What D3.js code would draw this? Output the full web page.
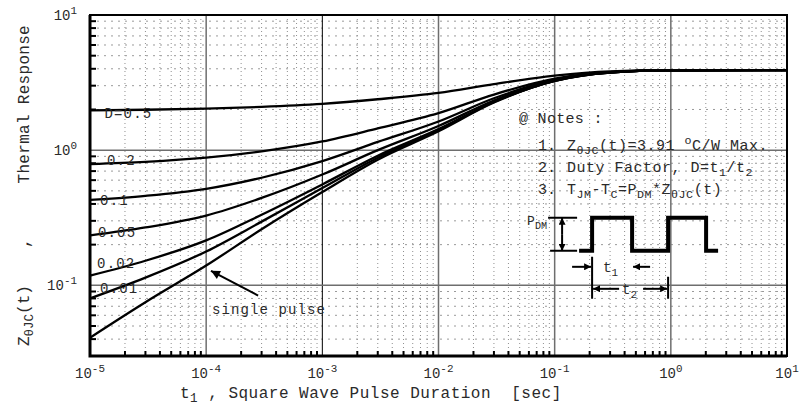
<!DOCTYPE html>
<html>
<head>
<meta charset="utf-8">
<script src="https://cdn.jsdelivr.net/npm/d3@7"></script>
<style>
  body { margin: 0; background: #fff; }
  svg { display: block; }
  text { font-family: "Liberation Mono", "Courier New", monospace; fill: #2a2a2a; white-space: pre; }
</style>
</head>
<body>
<div id="chart"></div>
<script>
// pulse durations (s) where the curves were read
var times = [1e-5, 3e-5, 1e-4, 3e-4, 1e-3, 3e-3, 1e-2, 3e-2, 1e-1, 3e-1, 1, 10];

// Z(t) readings, one list per duty factor
var zD05 = [1.97, 1.99, 2.03, 2.09, 2.20, 2.38, 2.65, 3.08, 3.56, 3.83, 3.90, 3.91];
var zD02 = [0.79, 0.82, 0.88, 0.98, 1.16, 1.45, 1.88, 2.58, 3.38, 3.78, 3.89, 3.91];
var zD01 = [0.428, 0.459, 0.517, 0.625, 0.83, 1.15, 1.63, 2.42, 3.32, 3.77, 3.89, 3.91];
var zD005 = [0.234, 0.268, 0.328, 0.443, 0.66, 1.00, 1.51, 2.33, 3.28, 3.76, 3.89, 3.91];
var zD002 = [0.118, 0.152, 0.215, 0.333, 0.558, 0.91, 1.43, 2.28, 3.26, 3.75, 3.89, 3.91];
var zD001 = [0.080, 0.114, 0.178, 0.296, 0.524, 0.88, 1.40, 2.27, 3.26, 3.75, 3.89, 3.91];
var zSingle = [0.041, 0.075, 0.14, 0.26, 0.49, 0.85, 1.38, 2.25, 3.25, 3.75, 3.89, 3.91];

var series = [zD05, zD02, zD01, zD005, zD002, zD001, zSingle];

// curve labels and where they sit (t, Z)
var labelText = ['D=0.5', '0.2', '0.1', '0.05', '0.02', '0.01'];
var labelT = [1.33e-5, 1.4e-5, 1.22e-5, 1.17e-5, 1.15e-5, 1.22e-5];
var labelZ = [1.73, 0.777, 0.393, 0.228, 0.134, 0.088];

var xTickExp = [-5, -4, -3, -2, -1, 0, 1];
var yTickExp = [1, 0, -1];

var width = 799, height = 405;
var margin = {left: 90, top: 15, right: 12, bottom: 49};

var svg = d3.select('#chart').append('svg')
    .attr('width', width)
    .attr('height', height);

var x = d3.scaleLog().domain([1e-5, 10]).range([margin.left, width - margin.right]);
var y = d3.scaleLog().domain([0.03, 10]).range([height - margin.bottom, margin.top]);

var x0 = x.range()[0], x1 = x.range()[1];
var y0 = y.range()[0], y1 = y.range()[1];

// minor grid values
var xMinor = [], yMinor = [];
xTickExp.slice(0, -1).forEach(function (e) {
    for (var k = 2; k <= 9; k++) xMinor.push(k * Math.pow(10, e));
});
[-2, -1, 0].forEach(function (e) {
    for (var k = 2; k <= 9; k++) {
        var v = k * Math.pow(10, e);
        if (v >= 0.03) yMinor.push(v);
    }
});

var grid = svg.append('g');

grid.selectAll('.xm').data(xMinor).enter().append('line')
    .attr('x1', d => x(d)).attr('x2', d => x(d))
    .attr('y1', y1).attr('y2', y0)
    .attr('stroke', '#8f8f8f').attr('stroke-width', 1)
    .attr('stroke-dasharray', '1,3');

grid.selectAll('.ym').data(yMinor).enter().append('line')
    .attr('x1', x0).attr('x2', x1)
    .attr('y1', d => y(d)).attr('y2', d => y(d))
    .attr('stroke', '#9a9a9a').attr('stroke-width', 1)
    .attr('stroke-dasharray', '2,5');

grid.selectAll('.xM').data(xTickExp.slice(1, -1)).enter().append('line')
    .attr('x1', d => x(Math.pow(10, d))).attr('x2', d => x(Math.pow(10, d)))
    .attr('y1', y1).attr('y2', y0)
    .attr('stroke', d => d === -3 ? '#000' : '#6e6e6e')
    .attr('stroke-width', d => d === -3 ? 1 : 1.5);

grid.selectAll('.yM').data([0, -1]).enter().append('line')
    .attr('x1', x0).attr('x2', x1)
    .attr('y1', d => y(Math.pow(10, d))).attr('y2', d => y(Math.pow(10, d)))
    .attr('stroke', '#6e6e6e').attr('stroke-width', 1.5);

// inner minor ticks
svg.append('g').selectAll('line').data(yMinor).enter().append('line')
    .attr('x1', x0).attr('x2', x0 + 6)
    .attr('y1', d => y(d)).attr('y2', d => y(d))
    .attr('stroke', '#000').attr('stroke-width', 2);

svg.append('g').selectAll('line').data(xMinor).enter().append('line')
    .attr('x1', d => x(d)).attr('x2', d => x(d))
    .attr('y1', y0).attr('y2', y0 - 5)
    .attr('stroke', '#000').attr('stroke-width', 2);

// frame
svg.append('rect')
    .attr('x', x0).attr('y', y1)
    .attr('width', x1 - x0).attr('height', y0 - y1)
    .attr('fill', 'none').attr('stroke', '#000').attr('stroke-width', 2);
svg.append('path')
    .attr('d', `M${x0},${y1}V${y0}H${x1}`)
    .attr('fill', 'none').attr('stroke', '#000').attr('stroke-width', 3);

// curves
var line = d3.line()
    .x((d, i) => x(times[i]))
    .y(d => y(d))
    .curve(d3.curveMonotoneX);

var curves = svg.append('g');
curves.selectAll('path').data(series).enter().append('path')
    .attr('d', d => line(d))
    .attr('fill', 'none')
    .attr('stroke', '#000')
    .attr('stroke-width', 2.3);

// curve labels
svg.append('g').selectAll('text').data(labelText).enter().append('text')
    .attr('x', (d, i) => x(labelT[i]))
    .attr('y', (d, i) => y(labelZ[i]))
    .attr('font-size', 14)
    .attr('letter-spacing', 1.2)
    .text(d => d);

// rich text helper (sub / superscripts)
function rich(sel, parts, fs) {
    var shift = 0;
    parts.forEach(function (p) {
        var target = p[1] === 'sub' ? 4 : p[1] === 'sup' ? -6 : 0;
        sel.append('tspan')
            .attr('dy', target - shift)
            .attr('font-size', p[1] ? fs * 0.78 : fs)
            .text(p[0]);
        shift = target;
    });
}

// tick labels
svg.append('g').selectAll('text').data(xTickExp).enter().append('text')
    .attr('x', d => x(Math.pow(10, d)))
    .attr('y', y0 + 22)
    .attr('text-anchor', 'middle')
    .each(function (d) { rich(d3.select(this), [['10', null], [String(d), 'sup']], 14); });

svg.append('g').selectAll('text').data(yTickExp).enter().append('text')
    .attr('x', x0 - 13)
    .attr('y', d => y(Math.pow(10, d)) + 5)
    .attr('text-anchor', 'end')
    .each(function (d) { rich(d3.select(this), [['10', null], [String(d), 'sup']], 14); });

// axis titles
var xt = svg.append('text')
    .attr('x', 180).attr('y', 398)
    .attr('letter-spacing', 0.5);
rich(xt, [['t', null], ['1', 'sub'], [' , Square Wave Pulse Duration  [sec]', null]], 16);

var yt = svg.append('text')
    .attr('transform', `translate(29,${y0 - 10})rotate(-90)`);
rich(yt, [['Z', null], ['\u03b8JC', 'sub'], ['(t)', null]], 16);
svg.append('text')
    .attr('transform', `translate(29,${y0 - 108})rotate(-90)`)
    .attr('font-size', 16)
    .text(',');
svg.append('text')
    .attr('transform', `translate(29,${y1 + 10})rotate(-90)`)
    .attr('text-anchor', 'end')
    .attr('font-size', 16)
    .attr('letter-spacing', 0.3)
    .text('Thermal Response');

// single pulse arrow
var defs = svg.append('defs');
defs.append('marker')
    .attr('id', 'ah')
    .attr('viewBox', '0 0 10 10')
    .attr('refX', 10).attr('refY', 5)
    .attr('markerWidth', 7).attr('markerHeight', 7)
    .attr('markerUnits', 'userSpaceOnUse')
    .attr('orient', 'auto')
    .append('path').attr('d', 'M0,0L10,5L0,10Z').attr('fill', '#000');
defs.append('marker')
    .attr('id', 'ahBig')
    .attr('viewBox', '0 0 10 10')
    .attr('refX', 10).attr('refY', 5)
    .attr('markerWidth', 12).attr('markerHeight', 9)
    .attr('markerUnits', 'userSpaceOnUse')
    .attr('orient', 'auto')
    .append('path').attr('d', 'M0,0L10,5L0,10Z').attr('fill', '#000');

svg.append('line')
    .attr('x1', x(2.8e-4)).attr('y1', y(0.084))
    .attr('x2', x(1.1e-4)).attr('y2', y(0.128))
    .attr('stroke', '#000').attr('stroke-width', 2)
    .attr('marker-end', 'url(#ahBig)');

svg.append('text')
    .attr('x', x(1.12e-4)).attr('y', y(0.061))
    .attr('font-size', 14)
    .attr('letter-spacing', 1.1)
    .text('single pulse');

// notes
var noteX = x(0.0493), numX = x(0.0719), txtX = x(0.1276);
svg.append('text').attr('x', noteX).attr('y', y(1.6)).attr('font-size', 15)
    .attr('letter-spacing', 0.3).text('@ Notes :');
var rows = [
    [['Z', null], ['\u03b8JC', 'sub'], ['(t)=3.91 ', null], ['o', 'sup'], ['C/W Max.', null]],
    [['Duty Factor, D=t', null], ['1', 'sub'], ['/t', null], ['2', 'sub']],
    [['T', null], ['JM', 'sub'], ['-T', null], ['C', 'sub'], ['=P', null], ['DM', 'sub'], ['*Z', null], ['\u03b8JC', 'sub'], ['(t)', null]]
];
var rowZ = [1.0, 0.69, 0.475];
rows.forEach(function (r, i) {
    svg.append('text').attr('x', numX).attr('y', y(rowZ[i])).attr('font-size', 15).text((i + 1) + '.');
    var t = svg.append('text').attr('x', txtX).attr('y', y(rowZ[i])).attr('letter-spacing', 0.5);
    rich(t, r, 15);
});

// pulse diagram, anchored at the first rising edge
var pg = svg.append('g').attr('transform', `translate(${x(0.21)},${y(0.18)})`);
pg.append('path')
    .attr('d', 'M-13,0H0V-33H40V0H76V-33H114V0H126')
    .attr('fill', 'none').attr('stroke', '#000').attr('stroke-width', 4);
pg.append('path')
    .attr('d', 'M-44,-33H-15M-42,0H-15')
    .attr('stroke', '#000').attr('stroke-width', 2);
pg.append('line')
    .attr('x1', -30).attr('x2', -30).attr('y1', -16).attr('y2', -33)
    .attr('stroke', '#000').attr('stroke-width', 2).attr('marker-end', 'url(#ah)');
pg.append('line')
    .attr('x1', -30).attr('x2', -30).attr('y1', -16).attr('y2', 0)
    .attr('stroke', '#000').attr('stroke-width', 2).attr('marker-end', 'url(#ah)');
var pdm = pg.append('text').attr('x', -65).attr('y', -26);
rich(pdm, [['P', null], ['DM', 'sub']], 13);

pg.append('path')
    .attr('d', 'M0,6V48M76,26V48')
    .attr('stroke', '#000').attr('stroke-width', 2);
pg.append('line').attr('x1', -20).attr('x2', -1).attr('y1', 16).attr('y2', 16)
    .attr('stroke', '#000').attr('stroke-width', 2).attr('marker-end', 'url(#ah)');
pg.append('line').attr('x1', 58).attr('x2', 41).attr('y1', 16).attr('y2', 16)
    .attr('stroke', '#000').attr('stroke-width', 2).attr('marker-end', 'url(#ah)');
var t1 = pg.append('text').attr('x', 11).attr('y', 21);
rich(t1, [['t', null], ['1', 'sub']], 14);

pg.append('line').attr('x1', 27).attr('x2', 1).attr('y1', 38).attr('y2', 38)
    .attr('stroke', '#000').attr('stroke-width', 2).attr('marker-end', 'url(#ah)');
pg.append('line').attr('x1', 51).attr('x2', 75).attr('y1', 38).attr('y2', 38)
    .attr('stroke', '#000').attr('stroke-width', 2).attr('marker-end', 'url(#ah)');
var t2 = pg.append('text').attr('x', 30).attr('y', 43);
rich(t2, [['t', null], ['2', 'sub']], 14);
</script>
</body>
</html>
